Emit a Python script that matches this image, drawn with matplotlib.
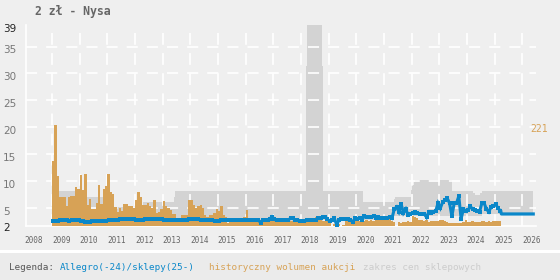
import matplotlib
matplotlib.use("Agg")
import matplotlib.pyplot as plt
from matplotlib.patches import Rectangle
from matplotlib.lines import Line2D
from matplotlib.transforms import ScaledTranslation

plt.rcParams['font.family'] = ['DejaVu Sans Mono', 'DejaVu Sans']
plt.rcParams['lines.scale_dashes'] = False

# ---------------- data ----------------
title = "2 zł - Nysa"
years = list(range(2008, 2027))
y_ticks = [2, 5, 10, 15, 20, 25, 30, 35, 39]

# monthly auction volume, starting Jan 2009
vol_start = 2009.0
volumes = [142, 221, 109, 63, 63, 64, 44, 64, 66, 66,
           85, 81, 111, 78, 114, 46, 59, 37, 37, 50,
           90, 48, 81, 88, 114, 75, 70, 42, 31, 39,
           33, 48, 48, 44, 44, 40, 57, 75, 63, 46,
           46, 50, 44, 39, 57, 29, 31, 37, 55, 44,
           39, 35, 26, 26, 16, 11, 24, 24, 24, 57,
           57, 45, 39, 44, 46, 40, 24, 19, 24, 24,
           29, 37, 33, 44, 24, 19, 7, 11, 11, 11,
           14, 11, 16, 19, 35, 9,
           11, 10, 10, 12, 10, 9, 11, 10, 12, 10,
           10, 11, 10, 9, 12, 10, 8, 10, 11, 10, 9, 12,
           12, 11, 13, 14, 12, 10, 20, 18, 14, 12, 11, 13,
           6, 0, 5, 9, 4, 0, 3, 10, 10, 8, 11, 10,
           10, 12, 9, 12, 13, 10, 14, 12, 13, 17, 15, 15,
           18, 20, 16, 12, 9, 0, 8, 7, 8, 9, 10, 8,
           22, 20, 18, 14, 14, 12, 13, 9, 11, 10, 10, 11,
           14, 13, 12, 8, 7, 6, 7, 6, 6, 7, 8, 13,
           8, 9, 10, 8, 9, 8, 10, 10, 9, 10, 9, 11,
           12, 12, 12]
vol_max = 221

# monthly Allegro price, starting Jan 2009
allegro = [2.6, 2.6, 2.6, 2.8, 2.8, 2.8, 2.8, 2.6, 2.8, 2.8, 2.8, 2.8,
           2.6, 2.6, 2.5, 2.5, 2.5, 2.6, 2.6, 2.6, 2.6, 2.6, 2.6, 2.6,
           2.8, 2.8, 2.8, 2.8, 2.8, 2.95, 2.95, 2.95, 2.95, 2.95, 2.95, 2.95,
           2.8, 2.8, 2.8, 2.8, 2.9, 2.9, 2.9, 2.9, 2.9, 2.95, 2.95, 2.95,
           2.8, 2.8, 2.8, 2.8, 2.8, 2.8, 2.7, 2.7, 2.7, 2.7, 2.7, 2.9,
           2.9, 2.9, 2.9, 2.9, 2.8, 2.8, 2.8, 2.8, 2.8, 2.8, 2.6, 2.6,
           2.6, 2.8, 2.8, 2.8, 2.8, 2.8, 2.8, 2.8, 2.8, 2.8, 2.8, 2.8,
           2.8, 2.8, 2.8, 2.8, 2.8, 2.8, 2.3, 2.8, 2.8, 2.8, 3.0, 3.4,
           2.9, 2.7, 2.7, 2.7, 2.7, 2.7, 2.8, 3.1, 3.1, 2.7, 2.7, 2.6,
           2.55, 2.6, 2.7, 2.7, 2.7, 2.7, 2.8, 3.1, 3.1, 3.4, 3.4, 2.9,
           2.6, 2.8, 3.1, 1.9, 2.8, 2.9, 3.0, 2.9, 3.0, 2.8, 2.4, 3.1,
           3.0, 3.1, 2.8, 3.5, 3.4, 3.3, 3.4, 3.5, 3.2, 3.3, 3.2, 3.1,
           3.2, 3.2, 3.3, 3.1, 4.8, 5.2, 4.3, 5.7, 4.1, 4.8, 3.7, 3.9,
           4.1, 4.3, 4.1, 3.9, 3.9, 3.9, 3.3, 4.3, 4.1, 4.3, 4.5, 5.9,
           5.0, 6.1, 6.5, 6.8, 5.9, 3.5, 5.9, 5.9, 7.2, 3.0, 4.8, 4.5,
           4.6, 5.3, 4.8, 4.6, 4.5, 4.3, 5.9, 5.9, 4.8, 4.3, 5.2, 5.4,
           5.7, 5.0, 4.5]

# shop price (from 2025)
shop_t = [2025.22, 2025.25, 2026.4]
shop_v = [4.5, 3.9, 3.9]

# shop price range band (step)
band_t = [2009.05, 2010.25, 2011.2, 2012.3, 2013.4, 2013.45, 2018.18, 2018.22,
          2018.76, 2018.8, 2020.24, 2021.35, 2021.4, 2021.98, 2022.03, 2022.08,
          2022.12, 2023.46, 2024.22, 2024.3, 2024.38, 2024.46, 2024.56, 2026.4]
band_hi = [8.1, 7.0, 5.2, 6.2, 7.0, 8.2, 31.3, 45.0,
           31.3, 8.2, 6.2, 6.7, 7.1, 8.3, 9.2, 9.8,
           10.2, 8.2, 7.8, 7.4, 7.4, 7.8, 8.2, 8.2]
band_lo = [2.6, 2.6, 2.6, 2.6, 2.6, 2.6, 2.6, 2.6,
           2.6, 2.8, 2.8, 3.6, 3.6, 3.6, 3.6, 3.6,
           3.6, 3.6, 3.6, 3.6, 3.6, 3.6, 3.9, 3.9]

# ---------------- style ----------------
BG = '#efefef'
ORANGE = '#d7a256'
BLUE = '#0a87c9'
GRAY = '#d3d3d3'

W, H = 560, 280
fig = plt.figure(figsize=(W / 100, H / 100), dpi=100)
fig.patch.set_facecolor(BG)
fig.add_artist(Rectangle((0, 0), 1, (H - 252) / H, transform=fig.transFigure,
                         facecolor='#ebebeb', edgecolor='none', zorder=0))
fig.add_artist(Line2D([0, 1], [(H - 250.5) / H] * 2, transform=fig.transFigure,
                      color='white', lw=2.2, zorder=1))

ax = fig.add_axes([26 / W, 1 - 226 / H, 510 / W, 201 / H])
ax.set_facecolor(BG)
ymin, ymax = 1.667, 38.9
ax.set_xlim(2008.058, 2026.5)
ax.set_ylim(ymin, ymax)

# band
ax.fill_between(band_t, band_lo, band_hi, step='post', color=GRAY, lw=0, zorder=1)

# grid
for v in y_ticks[1:-1]:
    ax.axhline(v, color='white', lw=1.2, dashes=(8, 6.5), zorder=2)
for yr in years[1:]:
    ax.axvline(yr, color='white', lw=1.2, dashes=(8.5, 6), zorder=2)

# volume bars
scale = (20.4 - ymin) / vol_max
bar_x = [vol_start + i / 12 for i in range(len(volumes))]
bar_h = [v * scale for v in volumes]
ax.bar(bar_x, bar_h, width=1 / 12, align='edge', bottom=ymin, color=ORANGE,
       linewidth=0, zorder=3)

# allegro line
al_t = [vol_start + (i + 0.5) / 12 for i in range(len(allegro))]
ax.plot(al_t, allegro, color=BLUE, lw=2.2, marker='s', ms=3.4, mew=0,
        zorder=4, solid_joinstyle='miter')
ax.plot(shop_t, shop_v, color=BLUE, lw=2.3, zorder=4)

# spines
for s in ['top', 'right']:
    ax.spines[s].set_visible(False)
for s in ['left', 'bottom']:
    ax.spines[s].set_color('white')
    ax.spines[s].set_linewidth(1.2)

# y tick labels (drawn slightly below their gridlines, left-aligned)
ax.set_yticks(y_ticks)
ax.set_yticklabels([])
ax.tick_params(axis='y', length=0)
ytrans = ax.get_yaxis_transform() + ScaledTranslation(0, -3.5 / 100, fig.dpi_scale_trans)
for v in y_ticks:
    ax.text(-23 / 510, v, str(v), transform=ytrans, ha='left', va='center',
            fontsize=7.5, family='DejaVu Sans',
            color='#222222' if v in (2, 39) else '#777777', clip_on=False)

# x ticks (labels offset from year gridlines)
ax.set_xticks([yr + 0.33 for yr in years])
ax.set_xticklabels([str(yr) for yr in years], fontsize=5.6, color='#666666')
ax.tick_params(axis='x', length=0, pad=7)

# texts
fig.text(35 / W, 1 - 12 / H, title, fontsize=8.3, fontweight='bold',
         color='#666666', va='center', ha='left')
fig.text(530 / W, 1 - 129 / H, str(vol_max), fontsize=7, color=ORANGE,
         va='center', ha='left')

ly = 1 - 267.5 / H
fig.text(9 / W, ly, "Legenda:", fontsize=6.7, color='#555555', va='center')
fig.text(60 / W, ly, "Allegro(-24)/sklepy(25-)", fontsize=6.7, color=BLUE, va='center')
fig.text(209 / W, ly, "historyczny wolumen aukcji", fontsize=6.7, color=ORANGE, va='center')
fig.text(363 / W, ly, "zakres cen sklepowych", fontsize=6.7, color='#cccccc', va='center')

fig.savefig('out.png', dpi=100, facecolor=fig.get_facecolor())
